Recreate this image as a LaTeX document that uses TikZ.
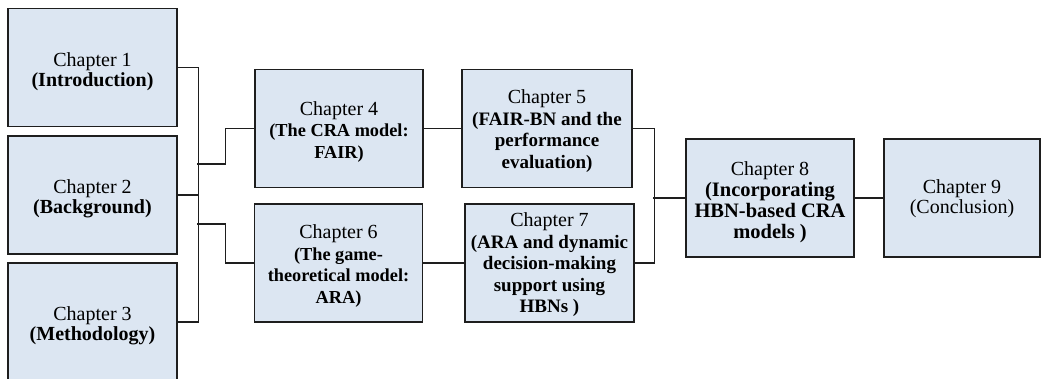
\documentclass[tikz,border=0pt]{standalone}
\usepackage{fontspec}
\setmainfont{Liberation Serif}
\definecolor{boxfill}{HTML}{DCE6F2}
\definecolor{boxline}{HTML}{1E1E1E}
\newcommand{\hd}[1]{{\fontsize{20}{21.5}\selectfont #1}}
\begin{document}
\begin{tikzpicture}[x=1pt,y=-1pt,
  chapbox/.style={draw=boxline,line width=1.5pt,fill=boxfill,inner sep=0pt,
    anchor=center,minimum width=169pt,minimum height=118pt},
  label text/.style={align=center,inner sep=0pt,anchor=center},
  bigtext/.style={label text,font=\fontsize{20}{20}\selectfont},
  smalltext/.style={label text,font=\fontsize{18.3}{21.5}\selectfont},
  midtext/.style={label text,font=\fontsize{19}{21.5}\selectfont},
  link/.style={draw=boxline,line width=1.2pt}]
\clip (0,0) rectangle (1042,378);
\fill[white] (0,0) rectangle (1042,378);

% boxes
\node[chapbox] (b1) at (92.5,67.5) {};
\node[chapbox] (b2) at (92.5,195) {};
\node[chapbox] (b3) at (92.5,322) {};
\node[chapbox,minimum width=168pt] (b4) at (339,128.5) {};
\node[chapbox,minimum width=168pt] (b6) at (338.5,263) {};
\node[chapbox,minimum width=170pt] (b5) at (547,128.5) {};
\node[chapbox] (b7) at (549.5,263) {};
\node[chapbox,minimum width=168pt] (b8) at (770,198) {};
\node[chapbox,minimum width=156pt] (b9) at (962,198) {};

% box texts
\node[bigtext] (t1) at ([yshift=-4pt]b1.center) {Chapter 1\\\textbf{(Introduction)}};
\node[bigtext] (t2) at ([yshift=-4pt]b2.center) {Chapter 2\\\textbf{(Background)}};
\node[bigtext] (t3) at ([yshift=-4pt]b3.center) {Chapter 3\\\textbf{(Methodology)}};
\node[smalltext] (t4) at ([yshift=-3.5pt]b4.center)
  {\hd{Chapter 4}\\\textbf{(The CRA model:}\\\textbf{FAIR)}};
\node[smalltext] (t6) at ([yshift=-3pt]b6.center)
  {\hd{Chapter 6}\\\textbf{(The game-}\\\textbf{theoretical model:}\\\textbf{ARA)}};
\node[midtext] (t5) at ([yshift=-2.5pt]b5.center)
  {\hd{Chapter 5}\\\textbf{(FAIR-BN and the}\\\textbf{performance}\\\textbf{evaluation)}};
\node[midtext] (t7) at ([yshift=-2pt]b7.center)
  {\hd{Chapter 7}\\\textbf{(ARA and dynamic}\\\textbf{decision-making}\\\textbf{support using}\\\textbf{HBNs )}};
\node[label text,font=\fontsize{20.5}{21}\selectfont] (t8) at ([yshift=-4pt]b8.center)
  {\hd{Chapter 8}\\\textbf{(Incorporating}\\\textbf{HBN-based CRA}\\\textbf{models )}};
\node[bigtext] (t9) at ([yshift=-1pt]b9.center) {Chapter 9\\(Conclusion)};

% bus joining chapters 1--3
\draw[link] (b1.east) -- ++(21,0) |- (b3.east);
\draw[link,line width=1.9pt] (b2.east) -- ++(21,0);
\draw[link] (b4.west) -- ++(-29,0) -- ++(0,35.5) -- ++(-28.5,0);
\draw[link] (b6.west) -- ++(-28.5,0) -- ++(0,-39) -- ++(-28.5,0);

% chains
\draw[link] (b4) -- (b5);
\draw[link] (b6) -- (b7);

% bus joining chapters 5 and 7
\draw[link] (b5.east) -- ++(22,0) |- (b7.east);
\draw[link] (b8.west) -- ++(-32,0);

\draw[link] (b8) -- (b9);
\end{tikzpicture}
\end{document}
